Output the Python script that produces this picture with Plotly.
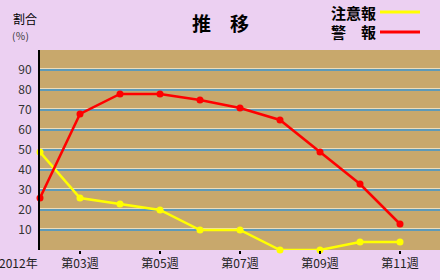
import plotly.graph_objects as go

weeks = [2, 3, 4, 5, 6, 7, 8, 9, 10, 11]
chuuiho = [49, 26, 23, 20, 10, 10, 0, 0, 4, 4]
keiho = [26, 68, 78, 78, 75, 71, 65, 49, 33, 13]
xtick_vals = [3, 5, 7, 9, 11]
xtick_text = ["第03週", "第05週", "第07週", "第09週", "第11週"]
ytick_vals = [0, 10, 20, 30, 40, 50, 60, 70, 80, 90, 100]
ytick_text = ["", "10", "20", "30", "40", "50", "60", "70", "80", "90", ""]

FONT = "Noto Sans CJK JP"
fig = go.Figure()
fig.add_trace(go.Scatter(x=weeks, y=chuuiho, mode="lines+markers",
                         line=dict(color="#FFFF00", width=2.5),
                         marker=dict(size=7, color="#FFFF00"),
                         cliponaxis=False, showlegend=False))
fig.add_trace(go.Scatter(x=weeks, y=keiho, mode="lines+markers",
                         line=dict(color="#FF0000", width=2.5),
                         marker=dict(size=7, color="#FF0000"),
                         cliponaxis=False, showlegend=False))

fig.update_layout(
    width=440, height=280,
    margin=dict(l=40, r=0, t=50, b=30),
    paper_bgcolor="#ECD0F2",
    plot_bgcolor="#C8A86C",
    font=dict(family=FONT, size=12, color="#222222"),
    xaxis=dict(range=[2, 12], tickvals=xtick_vals, ticktext=xtick_text,
               showgrid=False, zeroline=False, showline=False,
               ticks="outside", ticklen=3, tickwidth=2, tickcolor="black",
               tickfont=dict(size=12, family=FONT, color="#222222")),
    yaxis=dict(range=[0, 100], tickvals=ytick_vals, ticktext=ytick_text,
               showgrid=True, gridcolor="#5E9AB8", gridwidth=2,
               zeroline=False, showline=True, linecolor="black", linewidth=2,
               ticks="", ticklabelstandoff=4,
               tickfont=dict(size=12, family=FONT, color="#333333")),
    yaxis2=dict(range=[-0.75, 99.25], overlaying="y", side="left",
                tickvals=ytick_vals[1:-1], showticklabels=False,
                showgrid=True, gridcolor="#EEDCB8", gridwidth=1,
                zeroline=False, showline=False, ticks=""),
)
# invisible trace to activate the helper grid axis
fig.add_trace(go.Scatter(x=[weeks[0]], y=[chuuiho[0]], yaxis="y2", mode="markers",
                         marker=dict(opacity=0), hoverinfo="skip", showlegend=False))
fig.data = (fig.data[2], fig.data[0], fig.data[1])

ann = [
    dict(text="<b>推　移</b>", x=0.45, y=1.14, font=dict(size=19, color="black")),
    dict(text="割合", x=-0.072, y=1.155, xanchor="left", font=dict(size=12, color="black")),
    dict(text="(％)", x=-0.075, y=1.075, xanchor="left", font=dict(size=10, color="#333333")),
    dict(text="<b>注意報</b>", x=0.846, y=1.19, xanchor="right", font=dict(size=15, color="black")),
    dict(text="<b>警　報</b>", x=0.846, y=1.09, xanchor="right", font=dict(size=15, color="black")),
    dict(text="2012年", x=2, xref="x", y=0, yref="paper", xanchor="right", yanchor="top",
         yshift=-2, font=dict(size=12, color="#222222")),
]
for a in ann:
    a.setdefault("xref", "paper")
    a.setdefault("yref", "paper")
    a.setdefault("showarrow", False)
    a.setdefault("yanchor", "middle")
    a.setdefault("xanchor", "center")
    f = a["font"]
    f.setdefault("family", FONT)
    fig.add_annotation(**a)

fig.add_shape(type="line", xref="paper", yref="paper", x0=0.85, x1=0.95, y0=1.19, y1=1.19,
              line=dict(color="#FFFF00", width=3))
fig.add_shape(type="line", xref="paper", yref="paper", x0=0.85, x1=0.95, y0=1.09, y1=1.09,
              line=dict(color="#FF0000", width=3))

fig.write_html("out.html")
